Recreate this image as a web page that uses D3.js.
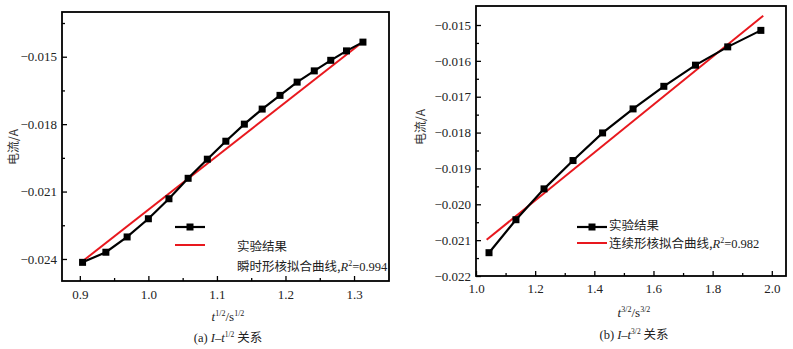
<!doctype html>
<html lang="en">
  <head>
    <meta charset="utf-8">
    <title>I-t curves</title>
    <style>
      body { margin: 0; background: #fff; }
      .tick text { font: 13px "Liberation Serif", serif; fill: #222; }
      .axis path { display: none; }
      .axis line { stroke: #000; stroke-width: 1.3; }
      .cn { font-family: "Noto Sans CJK SC", sans-serif; }
      .serif { font-family: "Liberation Serif", serif; }
    </style>
  </head>
  <body>
    <div class="chart"></div>
  <script src="https://d3js.org/d3.v7.min.js"></script>
  <script>
    // panel (a): I vs t^(1/2)
    const tA = [0.904, 0.938, 0.969, 1.000, 1.030, 1.058, 1.086, 1.113, 1.140, 1.166,
                1.192, 1.217, 1.242, 1.266, 1.289, 1.313];
    const currentA = [-0.02415, -0.0237, -0.02302, -0.02221, -0.02132, -0.02041, -0.01956, -0.01876,
                      -0.0180, -0.01733, -0.01672, -0.01613, -0.01563, -0.01516, -0.01474, -0.01435];
    const fitTA = [0.904, 1.313];
    const fitA = [-0.0241, -0.01433];
    const xTicksA = [0.9, 1.0, 1.1, 1.2, 1.3];
    const yTicksA = [-0.015, -0.018, -0.021, -0.024];

    // panel (b): I vs t^(3/2)
    const tB = [1.044, 1.135, 1.230, 1.328, 1.428, 1.531, 1.635, 1.742, 1.851, 1.963];
    const currentB = [-0.02135, -0.02043, -0.01957, -0.01878, -0.01801, -0.01734, -0.01671,
                      -0.01612, -0.01561, -0.01515];
    const fitTB = [1.036, 1.971];
    const fitB = [-0.02099, -0.01474];
    const xTicksB = [1.0, 1.2, 1.4, 1.6, 1.8, 2.0];
    const yTicksB = [-0.015, -0.016, -0.017, -0.018, -0.019, -0.020, -0.021, -0.022];

    const fmt = d => d3.format('.3f')(d).replace('-', '\u2212');

    const svg = d3.select('.chart').append('svg')
        .attr('width', 793)
        .attr('height', 349);

    function drawPanel(p) {
      const g = svg.append('g');
      const x = d3.scaleLinear().domain(p.xDomain).range([p.left, p.right]);
      const y = d3.scaleLinear().domain(p.yDomain).range([p.bottom, p.top]);

      // minor ticks
      g.append('g')
          .attr('class', 'axis')
          .attr('transform', `translate(0,${p.bottom})`)
          .call(d3.axisBottom(x).tickValues(p.xMinor).tickSizeInner(-3).tickSizeOuter(0).tickFormat(''));
      g.append('g')
          .attr('class', 'axis')
          .attr('transform', `translate(${p.left},0)`)
          .call(d3.axisLeft(y).tickValues(p.yMinor).tickSizeInner(-3).tickSizeOuter(0).tickFormat(''));

      g.append('g')
          .attr('class', 'axis')
          .attr('transform', `translate(0,${p.bottom})`)
          .call(d3.axisBottom(x).tickValues(p.xTicks).tickSizeInner(-5).tickSizeOuter(0)
            .tickPadding(p.xPad).tickFormat(d3.format('.1f')));
      g.append('g')
          .attr('class', 'axis')
          .attr('transform', `translate(${p.left},0)`)
          .call(d3.axisLeft(y).tickValues(p.yTicks).tickSizeInner(-5).tickSizeOuter(0)
            .tickPadding(5).tickFormat(fmt));

      g.append('rect')
          .attr('x', p.left)
          .attr('y', p.top)
          .attr('width', p.right - p.left)
          .attr('height', p.bottom - p.top)
          .attr('fill', 'none')
          .attr('stroke', '#000')
          .attr('stroke-width', 1.8);

      const pts = p.t.map((d, i) => [d, p.current[i]]);
      const fit = p.fitT.map((d, i) => [d, p.fit[i]]);
      const line = d3.line().x(d => x(d[0])).y(d => y(d[1]));

      g.append('path')
          .datum(fit)
          .attr('d', line)
          .attr('fill', 'none')
          .attr('stroke', '#e8181e')
          .attr('stroke-width', 2);

      g.append('path')
          .datum(pts)
          .attr('d', line)
          .attr('fill', 'none')
          .attr('stroke', '#000')
          .attr('stroke-width', 2.2);

      g.selectAll('.pt')
        .data(pts)
        .enter().append('rect')
          .attr('class', 'pt')
          .attr('x', d => x(d[0]) - 3.5)
          .attr('y', d => y(d[1]) - 3.5)
          .attr('width', 7)
          .attr('height', 7)
          .attr('fill', '#000');

      // legend
      const lg = p.legend;
      g.append('line')
          .attr('x1', lg.x).attr('x2', lg.x + 30)
          .attr('y1', lg.y1).attr('y2', lg.y1)
          .attr('stroke', '#000').attr('stroke-width', 2.2);
      g.append('rect')
          .attr('x', lg.x + 11.5).attr('y', lg.y1 - 3.5)
          .attr('width', 7).attr('height', 7)
          .attr('fill', '#000');
      g.append('line')
          .attr('x1', lg.x).attr('x2', lg.x + 30)
          .attr('y1', lg.y2).attr('y2', lg.y2)
          .attr('stroke', '#e8181e').attr('stroke-width', 2);
      g.append('text')
          .attr('class', 'cn')
          .attr('x', lg.tx).attr('y', lg.ty1)
          .attr('font-size', 12.5).attr('fill', '#222')
          .text('实验结果');
      const t2 = g.append('text')
          .attr('class', 'cn')
          .attr('x', lg.tx).attr('y', lg.ty2)
          .attr('font-size', 12.5).attr('fill', '#222');
      t2.append('tspan').text(lg.fitName + ',');
      t2.append('tspan').attr('class', 'serif').attr('font-style', 'italic').text('R');
      t2.append('tspan').attr('class', 'serif').attr('font-size', 8).attr('dy', -5).text('2');
      t2.append('tspan').attr('class', 'serif').attr('dy', 5).text('=' + lg.r2);

      // y label
      g.append('text')
          .attr('class', 'cn')
          .attr('transform', `translate(${p.yLabelX},${p.yLabelY}) rotate(-90)`)
          .attr('text-anchor', 'middle')
          .attr('font-size', 12).attr('fill', '#333')
          .text('电流/A');

      // x label
      const xl = g.append('text')
          .attr('class', 'serif')
          .attr('x', p.cx).attr('y', p.xLabelY)
          .attr('text-anchor', 'middle')
          .attr('font-size', 13).attr('fill', '#222');
      xl.append('tspan').attr('font-style', 'italic').text('t');
      xl.append('tspan').attr('font-size', 8).attr('dy', -5).text(p.exp);
      xl.append('tspan').attr('dy', 5).text('/s');
      xl.append('tspan').attr('font-size', 8).attr('dy', -5).text(p.exp);

      // caption
      const cap = g.append('text')
          .attr('x', p.cx).attr('y', p.capY)
          .attr('text-anchor', 'middle')
          .attr('font-size', 12.5).attr('fill', '#222');
      cap.append('tspan').attr('class', 'serif').text(p.tag + ' ');
      cap.append('tspan').attr('class', 'serif').attr('font-style', 'italic').text('I');
      cap.append('tspan').attr('class', 'serif').text('\u2013');
      cap.append('tspan').attr('class', 'serif').attr('font-style', 'italic').text('t');
      cap.append('tspan').attr('class', 'serif').attr('font-size', 7.5).attr('dy', -5).text(p.exp);
      cap.append('tspan').attr('class', 'cn').attr('dy', 5).text(' 关系');
    }

    drawPanel({
      left: 62, right: 389, top: 12, bottom: 281,
      xDomain: [0.874, 1.351], yDomain: [-0.02498, -0.01301],
      xTicks: xTicksA, yTicks: yTicksA,
      xMinor: [0.95, 1.05, 1.15, 1.25], yMinor: [-0.0135, -0.0165, -0.0195, -0.0225],
      xPad: 9,
      t: tA, current: currentA, fitT: fitTA, fit: fitA,
      legend: {x: 175, y1: 227, y2: 245, tx: 237, ty1: 251, ty2: 271,
               fitName: '瞬时形核拟合曲线', r2: '0.994'},
      yLabelX: 18, yLabelY: 147, cx: 228, xLabelY: 321, capY: 342,
      exp: '1/2', tag: '(a)'
    });

    drawPanel({
      left: 476, right: 786, top: 6, bottom: 276,
      xDomain: [1.0, 2.048], yDomain: [-0.022, -0.01447],
      xTicks: xTicksB, yTicks: yTicksB,
      xMinor: [1.1, 1.3, 1.5, 1.7, 1.9],
      yMinor: [-0.0155, -0.0165, -0.0175, -0.0185, -0.0195, -0.0205, -0.0215],
      xPad: 8,
      t: tB, current: currentB, fitT: fitTB, fit: fitB,
      legend: {x: 577, y1: 227, y2: 243, tx: 609, ty1: 230, ty2: 248,
               fitName: '连续形核拟合曲线', r2: '0.982'},
      yLabelX: 425, yLabelY: 127, cx: 634, xLabelY: 317, capY: 339,
      exp: '3/2', tag: '(b)'
    });
  </script>
  </body>
</html>
